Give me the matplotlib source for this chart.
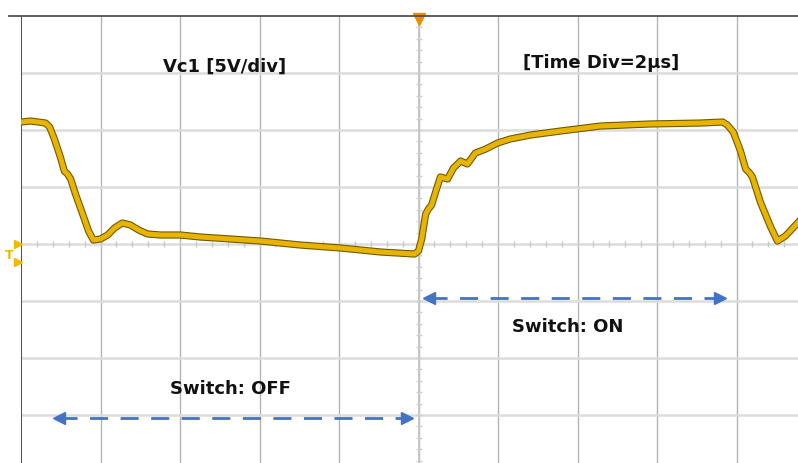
import matplotlib.pyplot as plt
import numpy as np

# scope capture, time in us (2 us/div), voltage in V (5 V/div)
t_us = [-9.99, -9.76, -9.38, -9.28, -9.16, -9.01, -8.91, -8.83, -8.75, -8.63,
        -8.45, -8.30, -8.18, -8.00, -7.82, -7.65, -7.45, -7.25, -7.04, -6.82,
        -6.49, -5.99, -5.48, -4.73, -3.97, -2.97, -1.96, -0.96, -0.10, 0.00,
        0.08, 0.18, 0.25, 0.33, 0.43, 0.55, 0.73, 0.88, 1.06, 1.23,
        1.43, 1.69, 1.99, 2.31, 2.82, 3.57, 4.58, 5.84, 7.09, 7.65,
        7.77, 7.92, 8.10, 8.23, 8.33, 8.40, 8.60, 8.86, 9.03, 9.23, 9.56]
vc1 = [10.70, 10.79, 10.61, 10.26, 9.21, 7.63, 6.40, 6.14, 5.70, 4.39,
       2.63, 1.14, 0.35, 0.44, 0.79, 1.40, 1.84, 1.67, 1.23, 0.88,
       0.79, 0.79, 0.61, 0.44, 0.26, -0.09, -0.35, -0.70, -0.88, -0.61,
       0.44, 2.63, 3.07, 3.42, 4.56, 5.88, 5.70, 6.67, 7.28, 7.02,
       7.98, 8.33, 8.86, 9.21, 9.56, 9.91, 10.35, 10.53, 10.61, 10.70,
       10.44, 9.82, 8.16, 6.58, 6.23, 5.88, 3.68, 1.49, 0.26, 0.70, 1.93]

labels = ["Vc1 [5V/div]", "[Time Div=2\u03bcs]", "Switch: ON", "Switch: OFF"]
off_span = [-9.18, -0.15]
on_span = [0.13, 7.72]

fig = plt.figure(figsize=(7.98, 4.64), dpi=100)
ax = fig.add_axes([21 / 798, 0, 777 / 798, 447 / 464])
ax.set_xlim(-10, 9.547)
ax.set_ylim(-19.21, 20)
ax.set_xticks([])
ax.set_yticks([])
for s in ax.spines.values():
    s.set_visible(False)

# graticule
for x in np.arange(-8, 10, 2):
    ax.axvline(x, color='#b4b4b4', lw=1, zorder=0)
for y in np.arange(-15, 20, 5):
    ax.axhline(y, color='#dcdcdc', lw=1.8, zorder=0)
ax.axvline(0, color='#c4c4c4', lw=1.2, zorder=0)
xt = np.arange(-9.6, 9.6, 0.4)
ax.plot(xt, np.zeros(len(xt)), '|', color='#c8c8c8', ms=4, zorder=0)
yt = np.arange(-19, 20, 1.0)
ax.plot(np.zeros(len(yt)), yt, '_', color='#d0d0d0', ms=4, zorder=0)
ax.axvline(-10, color='#404040', lw=1.3)
fig.add_artist(plt.Line2D([9 / 798, 1], [1 - 17 / 464] * 2, color='#505050', lw=1.3))

# trace
ax.plot(t_us, vc1, color='#6e5a00', lw=5.2, solid_joinstyle='round', zorder=3)
ax.plot(t_us, vc1, color='#e8b400', lw=3.6, solid_joinstyle='round', zorder=4)

# markers
ax.plot(0, 19.75, 'v', color='#f28a00', ms=9, clip_on=False, zorder=5)
ax.plot([-10.08, -10.08], [0, -1.58], '>', color='#f5b800', ms=6, clip_on=False)
ax.text(-10.3, -0.9, 'T', color='#f5b800', fontsize=9, fontweight='bold',
        ha='center', va='center', clip_on=False)

# switching intervals
blue = '#4472c4'
head = 0.14
for span, v in [(off_span, -15.26), (on_span, -4.74)]:
    ax.plot([span[0] + head, span[1] - head], [v, v], color=blue, lw=2,
            dashes=(6.5, 4.5), zorder=5)
    ax.plot(span[0] + head, v, '<', color=blue, ms=9, zorder=5)
    ax.plot(span[1] - head, v, '>', color=blue, ms=9, zorder=5)

font = dict(family='DejaVu Sans', fontweight='bold', fontsize=13, color='#111111',
            va='center')
ax.text(-6.42, 15.6, labels[0], **font)
ax.text(2.64, 15.95, labels[1], **font)
ax.text(2.34, -7.2, labels[2], **font)
ax.text(-6.24, -12.6, labels[3], **font)

fig.savefig('out.png', dpi=100)
